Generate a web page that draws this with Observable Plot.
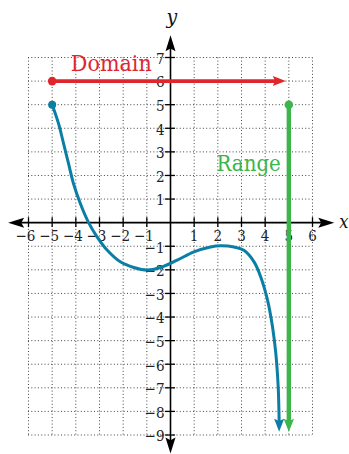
<!DOCTYPE html>
<html><head><meta charset="utf-8">
<script src="https://cdn.jsdelivr.net/npm/d3@7"></script>
<script src="https://cdn.jsdelivr.net/npm/@observablehq/plot@0.6"></script>
<style>
html,body{margin:0;padding:0;background:#fff}
svg{display:block}
</style>
</head><body><div id="chart"></div>
<script>
// ---- data ----
const xTicks = [-6, -5, -4, -3, -2, -1, 1, 2, 3, 4, 5, 6];
const yTicks = [-9, -8, -7, -6, -5, -4, -3, -2, -1, 1, 2, 3, 4, 5, 6, 7];
const gridX = [-6, -5, -4, -3, -2, -1, 0, 1, 2, 3, 4, 5, 6];
const gridY = [-9, -8, -7, -6, -5, -4, -3, -2, -1, 0, 1, 2, 3, 4, 5, 6, 7];
const curveX = [-5, -4.73, -4.52, -4.31, -4.10, -3.81, -3.46, -3.11, -2.68, -2.12, -1.55, -0.99, -0.42, 0.28, 0.99, 1.69, 2.12, 2.68, 3.1, 3.53, 3.81, 4.10, 4.31, 4.45, 4.55, 4.58, 4.59];
const curveY = [5, 4.2, 3.36, 2.51, 1.66, 0.81, 0, -0.59, -1.16, -1.66, -1.90, -2.01, -1.9, -1.59, -1.24, -1.03, -0.98, -1.03, -1.17, -1.66, -2.29, -3.28, -4.41, -5.54, -6.95, -7.9, -8.4];
const curveTip = [4.59, -8.86];
const domainStart = [-5, 6];
const domainEnd = [4.87, 6];
const rangeStart = [5, 5];
const rangeEnd = [5, -8.86];
const xAxisEnds = [-6.86, 6.92];
const yAxisEnds = [-9.78, 7.94];

const RED = "#e0262d", GREEN = "#3cb54a", TEAL = "#0b7ea5";
const SERIF = "DejaVu Serif Condensed, DejaVu Serif";

// arrowhead symbol, tip at origin, pointing along [ux, uy] (screen coords)
function arrowSymbol(ux, uy, len, half) {
  return {
    draw(ctx) {
      const px = -uy, py = ux;
      const bx = -ux * len, by = -uy * len;
      const nx = -ux * len * 0.82, ny = -uy * len * 0.82;
      ctx.moveTo(0, 0);
      ctx.lineTo(bx + px * half, by + py * half);
      ctx.lineTo(nx, ny);
      ctx.lineTo(bx - px * half, by - py * half);
      ctx.closePath();
    }
  };
}

const curve = curveX.map((x, i) => ({x, y: curveY[i]}));
const minus = v => (v < 0 ? "\u2212" + Math.abs(v) : String(v));
const dotted = {stroke: "#444", strokeWidth: 1, strokeDasharray: "1,2.3"};

const chart = Plot.plot({
  width: 349,
  height: 454,
  marginLeft: 28,
  marginRight: 37,
  marginTop: 57,
  marginBottom: 19.5,
  x: {domain: [-6, 6], axis: null},
  y: {domain: [-9, 7], axis: null},
  style: {background: "#fff", overflow: "visible", fontFamily: SERIF},
  marks: [
    Plot.ruleX(gridX, {x: d => d, y1: -9, y2: 7, ...dotted}),
    Plot.ruleY(gridY, {y: d => d, x1: -6, x2: 6, ...dotted}),
    Plot.ruleY([0], {x1: xAxisEnds[0] + 0.3, x2: xAxisEnds[1] - 0.3, stroke: "#000", strokeWidth: 1.6}),
    Plot.ruleX([0], {y1: yAxisEnds[0] + 0.3, y2: yAxisEnds[1] - 0.3, stroke: "#000", strokeWidth: 1.6}),
    Plot.dot([[xAxisEnds[1], 0]], {x: d => d[0], y: d => d[1], symbol: arrowSymbol(1, 0, 16, 5), fill: "#000", r: 5}),
    Plot.dot([[xAxisEnds[0], 0]], {x: d => d[0], y: d => d[1], symbol: arrowSymbol(-1, 0, 16, 5), fill: "#000", r: 5}),
    Plot.dot([[0, yAxisEnds[1]]], {x: d => d[0], y: d => d[1], symbol: arrowSymbol(0, -1, 16, 5), fill: "#000", r: 5}),
    Plot.dot([[0, yAxisEnds[0]]], {x: d => d[0], y: d => d[1], symbol: arrowSymbol(0, 1, 16, 5), fill: "#000", r: 5}),
    Plot.ruleX(xTicks, {x: d => d, y1: -0.21, y2: 0.21, stroke: "#000", strokeWidth: 1.3}),
    Plot.ruleY(yTicks, {y: d => d, x1: -0.21, x2: 0.21, stroke: "#000", strokeWidth: 1.3}),
    Plot.text(xTicks.filter(d => d < 0), {x: d => d, y: 0, text: minus, dy: 14, dx: -3, fontFamily: SERIF, fontSize: 15, fill: "#222"}),
    Plot.text(xTicks.filter(d => d > 0), {x: d => d, y: 0, text: minus, dy: 14, fontFamily: SERIF, fontSize: 15, fill: "#222"}),
    Plot.text(yTicks, {x: 0, y: d => d, text: minus, dx: -6, dy: 1.5, textAnchor: "end", fontFamily: SERIF, fontSize: 15, fill: "#222"}),
    Plot.link([0], {x1: domainStart[0], y1: domainStart[1], x2: domainEnd[0] - 0.4, y2: domainEnd[1], stroke: RED, strokeWidth: 3.6}),
    Plot.dot([domainEnd], {x: d => d[0], y: d => d[1], symbol: arrowSymbol(1, 0, 13, 5), fill: RED, r: 5}),
    Plot.dot([domainStart], {x: d => d[0], y: d => d[1], r: 4.3, fill: RED}),
    Plot.line(curve, {x: "x", y: "y", curve: "catmull-rom", stroke: TEAL, strokeWidth: 3}),
    Plot.dot([curveTip], {x: d => d[0], y: d => d[1], symbol: arrowSymbol(0, 1, 13, 5), fill: TEAL, r: 5}),
    Plot.dot([[curveX[0], curveY[0]]], {x: d => d[0], y: d => d[1], r: 4, fill: TEAL}),
    Plot.link([0], {x1: rangeStart[0], y1: rangeStart[1], x2: rangeEnd[0], y2: rangeEnd[1] + 0.4, stroke: GREEN, strokeWidth: 4.4}),
    Plot.dot([rangeEnd], {x: d => d[0], y: d => d[1], symbol: arrowSymbol(0, 1, 13, 5.2), fill: GREEN, r: 5}),
    Plot.dot([rangeStart], {x: d => d[0], y: d => d[1], r: 4.3, fill: GREEN}),
    Plot.text(["Domain"], {x: -2.5, y: 6.74, text: d => d, fontFamily: SERIF, fontSize: 23, fill: RED}),
    Plot.text(["Range"], {x: 3.3, y: 2.5, text: d => d, fontFamily: SERIF, fontSize: 22, fill: GREEN}),
    Plot.text(["y"], {x: 0.06, y: 8.7, text: d => d, fontFamily: SERIF, fontStyle: "italic", fontSize: 21, fill: "#111"}),
    Plot.text(["x"], {x: 7.13, y: 0.03, text: d => d, textAnchor: "start", fontFamily: SERIF, fontStyle: "italic", fontSize: 18, fill: "#111"})
  ]
});
document.getElementById("chart").appendChild(chart);
</script>
</body></html>
